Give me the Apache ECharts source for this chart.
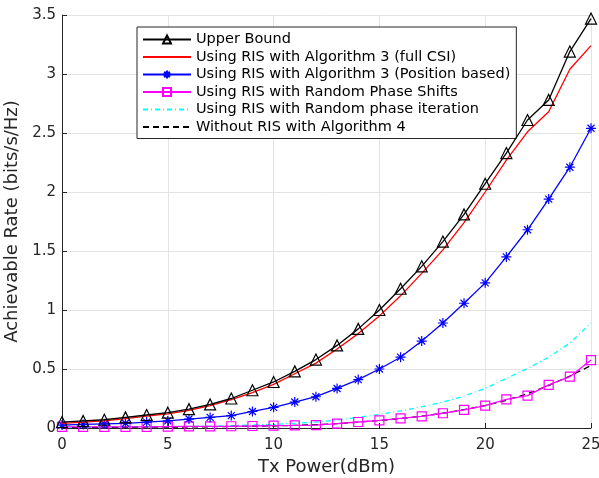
<!DOCTYPE html>
<html><head><meta charset="utf-8">
<script src="https://cdn.jsdelivr.net/npm/echarts@6/dist/echarts.min.js"></script>
<style>html,body{margin:0;padding:0;background:#fff}#c{width:599px;height:478px}</style>
</head><body><div id="c"></div>
<script>
const txPower = [0,1,2,3,4,5,6,7,8,9,10,11,12,13,14,15,16,17,18,19,20,21,22,23,24,25];
const upperBound = [0.05,0.06,0.07,0.09,0.11,0.13,0.16,0.20,0.25,0.32,0.39,0.48,0.58,0.70,0.84,1.00,1.18,1.37,1.58,1.81,2.07,2.33,2.61,2.78,3.19,3.47];
const fullCSI = [0.04,0.05,0.06,0.08,0.10,0.12,0.15,0.19,0.24,0.30,0.37,0.46,0.55,0.67,0.80,0.95,1.12,1.31,1.51,1.74,2.00,2.27,2.51,2.68,3.04,3.24];
const positionBased = [0.025,0.03,0.035,0.04,0.05,0.06,0.076,0.09,0.105,0.14,0.175,0.22,0.265,0.335,0.41,0.50,0.60,0.737,0.89,1.057,1.23,1.45,1.68,1.94,2.21,2.54];
const randomShifts = [0.01,0.01,0.01,0.01,0.01,0.012,0.013,0.014,0.015,0.017,0.02,0.022,0.025,0.037,0.051,0.065,0.082,0.099,0.125,0.153,0.19,0.243,0.274,0.365,0.435,0.576];
const randomIteration = [0.005,0.006,0.007,0.008,0.01,0.012,0.014,0.016,0.02,0.025,0.03,0.04,0.05,0.068,0.09,0.115,0.145,0.18,0.22,0.27,0.336,0.42,0.505,0.60,0.72,0.89];
const withoutRIS = [0.003,0.004,0.005,0.006,0.007,0.008,0.009,0.011,0.013,0.015,0.018,0.022,0.028,0.037,0.049,0.063,0.08,0.1,0.125,0.155,0.19,0.235,0.29,0.36,0.44,0.53];
const seriesNames = ['Upper Bound','Using RIS with Algorithm 3 (full CSI)','Using RIS with Algorithm 3 (Position based)','Using RIS with Random Phase Shifts','Using RIS with Random phase iteration','Without RIS with Algorithm 4'];

const pair = arr => txPower.map((x,i)=>[x,arr[i]]);
const asterisk = 'path://M5 0 L5 10 M0 5 L10 5 M1.5 1.5 L8.5 8.5 M8.5 1.5 L1.5 8.5';
const noMarker = [false,true,false,false,true,true];
const chart = echarts.init(document.getElementById('c'), null, {renderer:'canvas'});
const font = 'DejaVu Sans';
chart.setOption({
  animation:false,
  backgroundColor:'#fff',
  textStyle:{fontFamily:font},
  grid:{left:62,right:8,top:15,bottom:50,containLabel:false,outerBoundsMode:'none'},
  legend:{
    left:137, top:27, orient:'vertical',
    backgroundColor:'#fff', borderColor:'#262626', borderWidth:1, borderRadius:0,
    padding:[5,6,4,5], itemWidth:48, itemHeight:10, itemGap:2.5,
    textStyle:{fontFamily:font,fontSize:14.5,color:'#000'},
    data:seriesNames.map((n,i)=> noMarker[i] ? {name:n,itemStyle:{color:'rgba(0,0,0,0)',borderWidth:0}} : {name:n})
  },
  xAxis:{
    type:'value', min:0, max:25, interval:5,
    name:'Tx Power(dBm)', nameLocation:'middle', nameGap:29,
    nameTextStyle:{fontFamily:font,fontSize:18,color:'#262626'},
    axisLine:{lineStyle:{color:'#262626',width:1}},
    axisTick:{inside:true,length:5,lineStyle:{color:'#262626'}},
    axisLabel:{fontFamily:font,fontSize:15,color:'#262626',margin:10},
    splitLine:{show:true,lineStyle:{color:'#e3e3e3',width:1}}
  },
  yAxis:{
    type:'value', min:0, max:3.5, interval:0.5,
    name:'Achievable Rate (bits/s/Hz)', nameLocation:'middle', nameGap:33,
    nameTextStyle:{fontFamily:font,fontSize:18,color:'#262626'},
    axisLine:{show:true,lineStyle:{color:'#262626',width:1}},
    axisTick:{show:true,inside:true,length:5,lineStyle:{color:'#262626'}},
    axisLabel:{fontFamily:font,fontSize:15,color:'#262626',margin:6},
    splitLine:{show:true,lineStyle:{color:'#e3e3e3',width:1}}
  },
  series:[
    {name:seriesNames[0],type:'line',data:pair(upperBound),symbol:'triangle',symbolSize:11,showAllSymbol:true,
     lineStyle:{color:'#000',width:1.3},itemStyle:{color:'rgba(0,0,0,0)',borderColor:'#000',borderWidth:1.2},z:6},
    {name:seriesNames[1],type:'line',data:pair(fullCSI),symbol:'none',
     lineStyle:{color:'#ff0000',width:1.3},itemStyle:{color:'#ff0000'},z:5},
    {name:seriesNames[2],type:'line',data:pair(positionBased),symbol:asterisk,symbolSize:10,showAllSymbol:true,
     lineStyle:{color:'#0000ff',width:1.3},itemStyle:{color:'#0000ff',borderColor:'#0000ff',borderWidth:1.2},z:4},
    {name:seriesNames[3],type:'line',data:pair(randomShifts),symbol:'rect',symbolSize:9,showAllSymbol:true,
     lineStyle:{color:'#ff00ff',width:1.3},itemStyle:{color:'rgba(0,0,0,0)',borderColor:'#ff00ff',borderWidth:1.2},z:3},
    {name:seriesNames[4],type:'line',data:pair(randomIteration),symbol:'none',
     lineStyle:{color:'#00ffff',width:1.3,type:[5,3,1,3]},itemStyle:{color:'#00ffff'},z:2},
    {name:seriesNames[5],type:'line',data:pair(withoutRIS),symbol:'none',
     lineStyle:{color:'#000',width:1.3,type:[6,4]},itemStyle:{color:'#000'},z:2}
  ]
});
</script></body></html>
